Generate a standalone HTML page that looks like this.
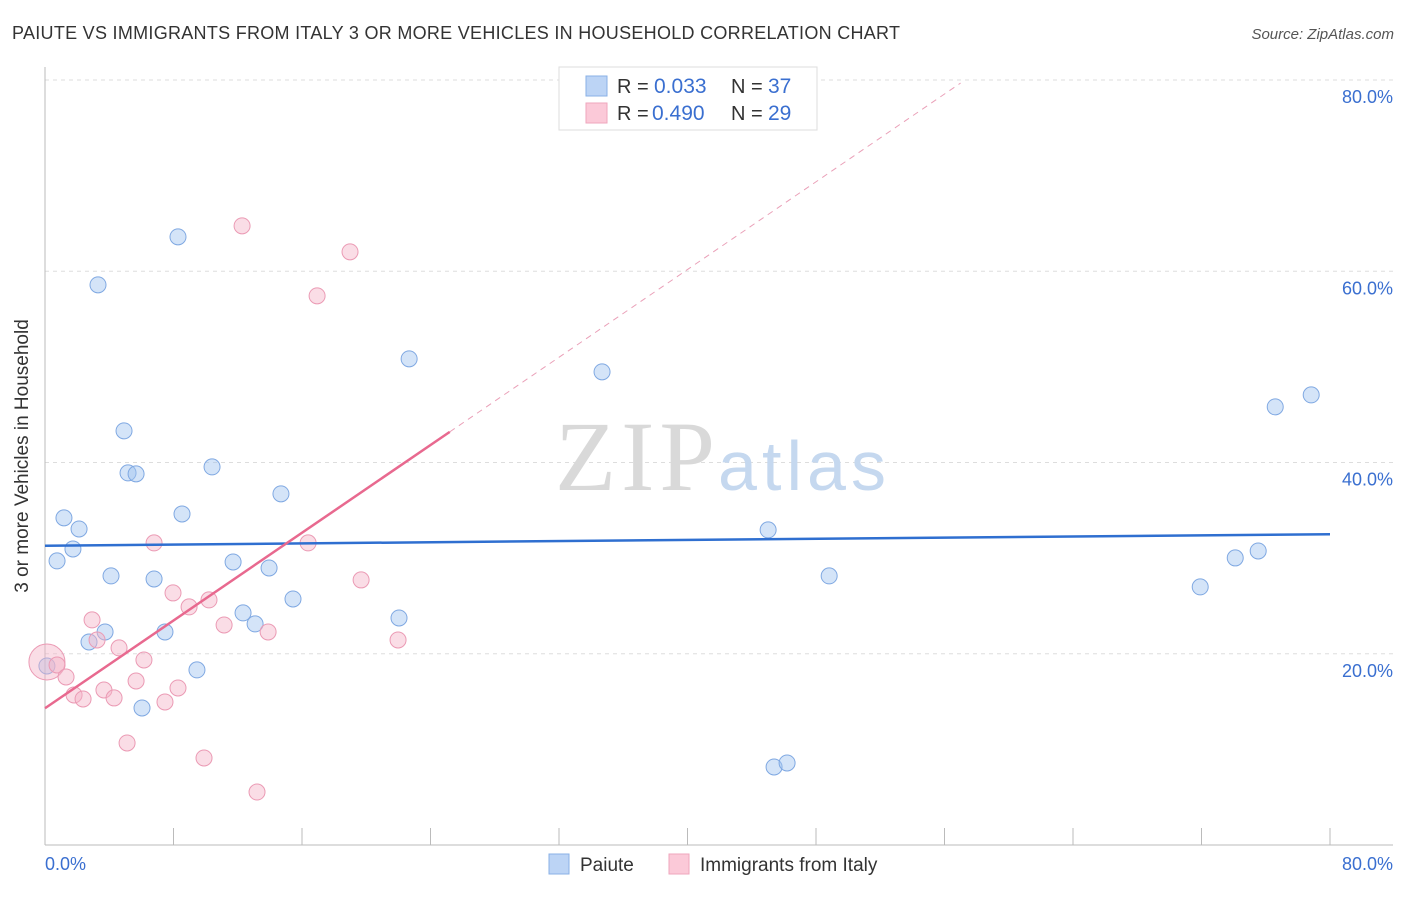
<!DOCTYPE html>
<html><head><meta charset="utf-8"><style>
body{margin:0;background:#fff;font-family:"Liberation Sans",sans-serif}
</style></head><body>
<svg id="chart" width="1406" height="892" font-family="Liberation Sans, sans-serif">
<text x="12" y="39" font-size="18" fill="#333" textLength="888">PAIUTE VS IMMIGRANTS FROM ITALY 3 OR MORE VEHICLES IN HOUSEHOLD CORRELATION CHART</text>
<text x="1394" y="39" font-size="15" fill="#555" text-anchor="end" font-style="italic">Source: ZipAtlas.com</text>
<g id="grid"></g>
<text x="555" y="490" font-size="100" fill="#d9d9d9" textLength="160" style="font-family:'Liberation Serif',serif">ZIP</text>
<text x="718" y="490" font-size="70" fill="#c5d8ef" textLength="168">atlas</text>
<g id="axes"></g>
<g id="marks"></g>
<text x="28" y="456" font-size="19" fill="#333" text-anchor="middle" transform="rotate(-90 28 456)">3 or more Vehicles in Household</text>
<text x="45" y="870" font-size="18" fill="#3a6fd0">0.0%</text>
<text x="1393" y="870" font-size="18" fill="#3a6fd0" text-anchor="end">80.0%</text>
<g>
<rect x="559" y="67" width="258" height="63" fill="#fff" stroke="#ddd"/>
<rect x="586" y="76" width="21" height="20" fill="#bcd4f5" stroke="#8ab0e6"/>
<rect x="586" y="103" width="21" height="20" fill="#fbc9d8" stroke="#efa6bd"/>
<text x="617" y="93" font-size="20" fill="#333">R = </text><text x="654" y="93" font-size="21" fill="#3a6fd0">0.033</text>
<text x="731" y="93" font-size="20" fill="#333">N = </text><text x="768" y="93" font-size="21" fill="#3a6fd0">37</text>
<text x="617" y="120" font-size="20" fill="#333">R = </text><text x="652" y="120" font-size="21" fill="#3a6fd0">0.490</text>
<text x="731" y="120" font-size="20" fill="#333">N = </text><text x="768" y="120" font-size="21" fill="#3a6fd0">29</text>
</g>
<g>
<rect x="549" y="854" width="20" height="20" fill="#bcd4f5" stroke="#8ab0e6"/>
<text x="580" y="871" font-size="19" fill="#333">Paiute</text>
<rect x="669" y="854" width="20" height="20" fill="#fbc9d8" stroke="#efa6bd"/>
<text x="700" y="871" font-size="19" fill="#333">Immigrants from Italy</text>
</g>
</svg>
<script>
const yTicks=[20,40,60,80];
const xTickCount=10;
const blueX=[0.12,0.75,1.18,1.74,2.12,2.74,3.30,3.74,4.11,4.92,5.17,5.67,6.04,6.79,7.47,8.28,8.53,9.46,10.40,11.71,12.33,13.08,13.95,14.69,15.44,22.04,22.67,34.68,45.02,45.39,46.20,48.82,71.92,74.10,75.53,76.59,78.83];
const blueY=[18.72,29.71,34.21,30.96,33.05,21.23,58.58,22.28,28.14,43.31,38.91,38.81,14.33,27.82,22.28,63.60,34.62,18.31,39.54,29.60,24.27,23.12,28.97,36.72,25.73,23.74,50.84,49.48,32.95,8.16,8.58,28.14,26.99,30.02,30.75,45.82,47.07];
const pinkX=[0.12,0.75,1.31,1.81,2.37,2.93,3.24,3.67,4.30,4.61,5.11,5.67,6.16,6.79,7.47,7.97,8.28,8.97,9.90,10.21,11.15,12.27,13.20,13.89,16.38,16.94,18.99,19.68,21.98];
const pinkY=[19.14,18.83,17.57,15.69,15.27,23.54,21.44,16.21,15.38,20.61,10.67,17.15,19.35,31.59,14.96,26.36,16.42,24.90,9.10,25.63,23.01,64.75,5.54,22.28,31.59,57.43,62.03,27.72,21.44];
const blueTrend=[31.3,32.5];
const pinkTrend=[14.3,1.147];
const NS="http://www.w3.org/2000/svg";
const sx=v=>45+v*16.0625, sy=v=>845-v*9.5625;
function mk(tag,attrs,parent){const e=document.createElementNS(NS,tag);for(const k in attrs)e.setAttribute(k,attrs[k]);document.getElementById(parent).appendChild(e);return e;}
yTicks.forEach(t=>{
 const l=mk('line',{x1:45,x2:1393,y1:sy(t),y2:sy(t),stroke:'#ddd','stroke-dasharray':'4 4'},'grid');
 
 
 const tx=mk('text',{x:1393,y:sy(t)+23,'font-size':18,fill:'#3a6fd0','text-anchor':'end'},'grid');
 tx.textContent=t.toFixed(1)+'%';
 
 
});
mk('line',{x1:45,x2:45,y1:67,y2:845,stroke:'#bbb'},'axes');
mk('line',{x1:45,x2:1393,y1:845,y2:845,stroke:'#bbb'},'axes');
for(let i=0;i<=xTickCount;i++){const t=mk('line',{x1:sx(i*8),x2:sx(i*8),y1:828,y2:845,stroke:'#bbb'},'axes');
 
 }
blueX.forEach((x,i)=>{const c=mk('circle',{cx:sx(x),cy:sy(blueY[i]),r:8,fill:'rgba(160,195,240,0.45)',stroke:'#7fa8e2','stroke-width':1},'marks');
 
 });
pinkX.forEach((x,i)=>{const c=mk('circle',{cx:sx(x),cy:sy(pinkY[i]),r:i===0?18:8,fill:'rgba(245,180,200,0.45)',stroke:'#eb9ab4','stroke-width':1},'marks');
 
 });
const bl=mk('line',{x1:sx(0),y1:sy(blueTrend[0]),x2:sx(80),y2:sy(blueTrend[1]),stroke:'#2f6fd0','stroke-width':2.5},'marks');


const pe=x=>pinkTrend[0]+pinkTrend[1]*x;
const ps=mk('line',{x1:sx(0),y1:sy(pe(0)),x2:sx(25.2),y2:sy(pe(25.2)),stroke:'#e8698f','stroke-width':2.5},'marks');


const pd=mk('line',{x1:sx(25.2),y1:sy(pe(25.2)),x2:sx(57),y2:sy(pe(57)),stroke:'#eaa0b8','stroke-width':1,'stroke-dasharray':'6 5'},'marks');


</script>
</body></html>
